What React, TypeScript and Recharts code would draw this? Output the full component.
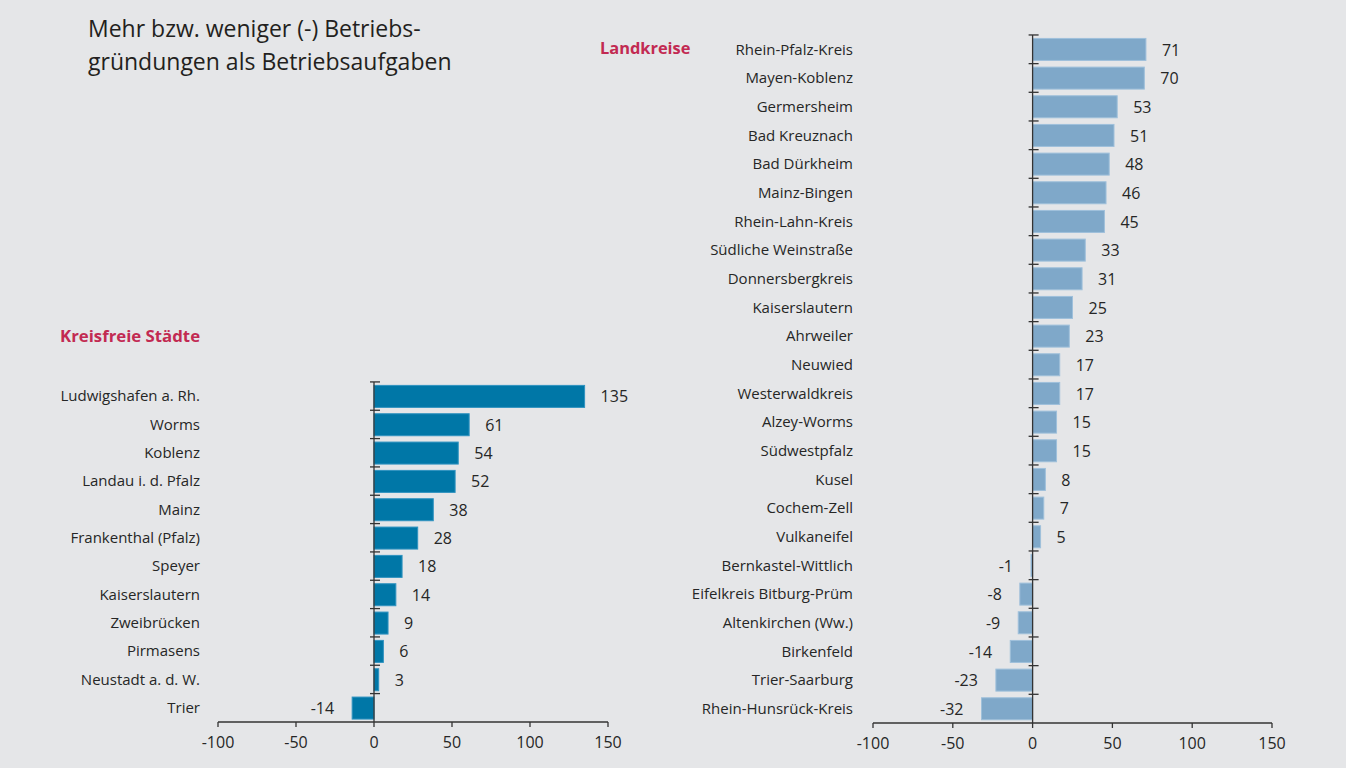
import React from 'react';
import { BarChart, Bar, XAxis, YAxis, ReferenceLine, LabelList } from 'recharts';

const cityNames = [
  'Ludwigshafen a. Rh.', 'Worms', 'Koblenz', 'Landau i. d. Pfalz', 'Mainz',
  'Frankenthal (Pfalz)', 'Speyer', 'Kaiserslautern', 'Zweibrücken', 'Pirmasens',
  'Neustadt a. d. W.', 'Trier',
];
const cityValues = [135, 61, 54, 52, 38, 28, 18, 14, 9, 6, 3, -14];

const districtNames = [
  'Rhein-Pfalz-Kreis', 'Mayen-Koblenz', 'Germersheim', 'Bad Kreuznach', 'Bad Dürkheim',
  'Mainz-Bingen', 'Rhein-Lahn-Kreis', 'Südliche Weinstraße', 'Donnersbergkreis',
  'Kaiserslautern', 'Ahrweiler', 'Neuwied', 'Westerwaldkreis', 'Alzey-Worms',
  'Südwestpfalz', 'Kusel', 'Cochem-Zell', 'Vulkaneifel', 'Bernkastel-Wittlich',
  'Eifelkreis Bitburg-Prüm', 'Altenkirchen (Ww.)', 'Birkenfeld', 'Trier-Saarburg',
  'Rhein-Hunsrück-Kreis',
];
const districtValues = [71, 70, 53, 51, 48, 46, 45, 33, 31, 25, 23, 17, 17, 15, 15, 8, 7, 5, -1, -8, -9, -14, -23, -32];

const xTicks = [-100, -50, 0, 50, 100, 150];
const xDomain = [-100, 150];

const titleLines = ['Mehr bzw. weniger (-) Betriebs-', 'gründungen als Betriebsaufgaben'];
const cityHeading = 'Kreisfreie Städte';
const districtHeading = 'Landkreise';

const cityData = cityNames.map((name, i) => ({ name, value: cityValues[i] }));
const districtData = districtNames.map((name, i) => ({ name, value: districtValues[i] }));

const FONT = '"Open Sans", sans-serif';
const TEXT = '#262626';
const AXIS = '#333333';
const GAP = 0.12;

const makeShape = (fill: string, stroke: string) => (props: any) => {
  const { x, y, width, height, payload } = props;
  const v = payload.value;
  const left = Math.min(x, x + width);
  const w = Math.abs(width);
  const zero = v >= 0 ? Math.min(x, x + width) : Math.max(x, x + width);
  const band = height / (1 - 2 * GAP);
  const top = y - GAP * band;
  return (
    <g>
      <rect x={left} y={y} width={w} height={height} fill={fill} stroke={stroke} strokeWidth={1} />
      <line x1={zero - 4} x2={zero + 6} y1={top} y2={top} stroke={AXIS} strokeWidth={1.3} />
    </g>
  );
};

const renderValue = (props: any) => {
  const vb = props.viewBox || {};
  const x = props.x ?? vb.x;
  const y = props.y ?? vb.y;
  const width = props.width ?? vb.width;
  const height = props.height ?? vb.height;
  const v = Number(props.value);
  const end = v >= 0 ? Math.max(x, x + width) : Math.min(x, x + width);
  return (
    <text
      x={v >= 0 ? end + 16 : end - 18}
      y={y + height / 2}
      dy="0.38em"
      textAnchor={v >= 0 ? 'start' : 'end'}
      fontFamily={FONT}
      fontSize={16}
      fill={TEXT}
    >
      {v}
    </text>
  );
};

type PanelProps = {
  data: { name: string; value: number }[];
  left: number;
  width: number;
  yWidth: number;
  tickMargin: number;
  top: number;
  bottom: number;
  right: number;
  fill: string;
  stroke: string;
};

const Panel = ({ data, left, width, yWidth, tickMargin, top, bottom, right, fill, stroke }: PanelProps) => (
  <div style={{ position: 'absolute', left, top: 0 }}>
    <BarChart
      width={width}
      height={768}
      data={data}
      layout="vertical"
      margin={{ top, bottom, left: 0, right }}
      barCategoryGap={`${GAP * 100}%`}
    >
      <XAxis
        type="number"
        domain={xDomain}
        ticks={xTicks}
        allowDataOverflow
        axisLine={{ stroke: AXIS, strokeWidth: 1.3 }}
        tickLine={{ stroke: AXIS, strokeWidth: 1.3 }}
        tickSize={5}
        tickMargin={10}
        height={30}
        tick={{ fill: TEXT, fontSize: 16, fontFamily: FONT }}
      />
      <YAxis
        type="category"
        dataKey="name"
        width={yWidth}
        axisLine={false}
        tickLine={false}
        tickSize={0}
        tickMargin={tickMargin}
        interval={0}
        tick={{ fill: TEXT, fontSize: 15, fontFamily: FONT }}
      />
      <Bar dataKey="value" isAnimationActive={false} shape={makeShape(fill, stroke)}>
        <LabelList dataKey="value" content={renderValue} />
      </Bar>
      <ReferenceLine x={0} stroke={AXIS} strokeWidth={1.3} />
    </BarChart>
  </div>
);

export default function App() {
  return (
    <div
      style={{
        position: 'absolute',
        left: 0,
        top: 0,
        width: 1346,
        height: 768,
        background: '#e5e6e8',
        fontFamily: FONT,
      }}
    >
      <Panel
        data={cityData}
        left={0}
        width={640}
        yWidth={218}
        tickMargin={18}
        top={382}
        bottom={16}
        right={32}
        fill="#0077a7"
        stroke="#2f93c0"
      />
      <Panel
        data={districtData}
        left={640}
        width={706}
        yWidth={233}
        tickMargin={20}
        top={35}
        bottom={15}
        right={74}
        fill="#7fa8c9"
        stroke="#9fc0db"
      />
      <svg
        width={1346}
        height={768}
        style={{ position: 'absolute', left: 0, top: 0, pointerEvents: 'none' }}
      >
        <text x={88} y={37} fontFamily={FONT} fontSize={23} fill="#231f20">{titleLines[0]}</text>
        <text x={88} y={70} fontFamily={FONT} fontSize={23} fill="#231f20">{titleLines[1]}</text>
        <text x={60} y={342} fontFamily={FONT} fontSize={16.8} fontWeight={700} fill="#c22a52">{cityHeading}</text>
        <text x={600} y={54} fontFamily={FONT} fontSize={16.4} fontWeight={700} fill="#c22a52">{districtHeading}</text>
      </svg>
    </div>
  );
}
